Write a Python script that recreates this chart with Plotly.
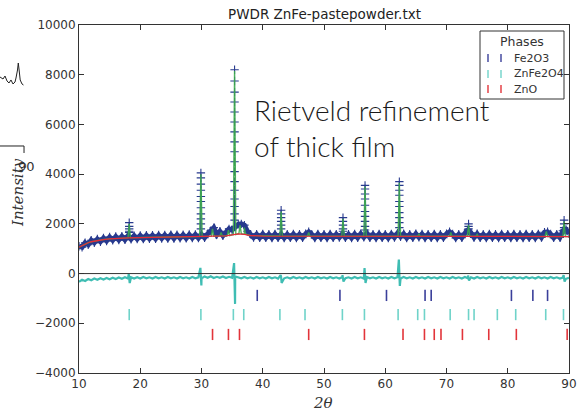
import numpy as np
import plotly.graph_objects as go

# ---------------- data ----------------
x_start, x_stop, x_step = 10.0, 90.0, 0.5

# observed intensity on a 0.5 deg grid (10.0 ... 90.0)
obs_y = [
    1100, 1060, 1240, 1160, 1340, 1240, 1390, 1280, 1430, 1310,   # 10.0-14.5
    1470, 1340, 1490, 1350, 1500, 1360, 1520, 1380, 1520, 1390,   # 15.0-19.5
    1530, 1390, 1540, 1400, 1540, 1400, 1550, 1410, 1550, 1410,   # 20.0-24.5
    1560, 1410, 1560, 1420, 1560, 1420, 1570, 1430, 1570, 1430,   # 25.0-29.5
    1580, 1440, 1600, 1720, 1850, 1560, 1700, 1520, 1650, 1800,   # 30.0-34.5
    1750, 1900, 1980, 2000, 1950, 1700, 1580, 1450, 1580, 1440,   # 35.0-39.5
    1590, 1440, 1580, 1430, 1590, 1440, 1590, 1430, 1580, 1440,   # 40.0-44.5
    1590, 1430, 1580, 1440, 1600, 1680, 1580, 1430, 1590, 1440,   # 45.0-49.5
    1580, 1430, 1590, 1440, 1580, 1450, 1600, 1440, 1580, 1430,   # 50.0-54.5
    1590, 1440, 1600, 1460, 1620, 1440, 1580, 1430, 1590, 1440,   # 55.0-59.5
    1580, 1430, 1590, 1450, 1620, 1480, 1600, 1430, 1580, 1440,   # 60.0-64.5
    1600, 1460, 1590, 1430, 1580, 1440, 1590, 1430, 1580, 1440,   # 65.0-69.5
    1600, 1680, 1590, 1430, 1580, 1440, 1620, 1750, 1640, 1450,   # 70.0-74.5
    1600, 1440, 1580, 1430, 1590, 1440, 1580, 1430, 1590, 1440,   # 75.0-79.5
    1580, 1430, 1590, 1440, 1580, 1430, 1590, 1440, 1580, 1430,   # 80.0-84.5
    1590, 1450, 1660, 1680, 1590, 1440, 1580, 1450, 1720, 1780,   # 85.0-89.5
    1600,                                                         # 90.0
]

# observed points stacked along the main peaks
peak_x = [18.2, 29.9, 35.4, 43.0, 53.1, 56.7, 62.3, 73.6, 89.2]
peak_obs_levels = [
    [2050, 1900, 1800, 1700, 1650],
    [4050, 3850, 3600, 3350, 3100, 2900, 2650, 2400, 2200, 2000, 1800],
    [8200, 7750, 7300, 6900, 6500, 6100, 5700, 5300, 4900, 4500, 4100,
     3700, 3350, 3000, 2700, 2400, 2150],
    [2550, 2400, 2250, 2100, 1950, 1800],
    [2250, 2100, 1950, 1800, 1700],
    [3550, 3400, 3200, 3000, 2750, 2500, 2300, 2100, 1900, 1750],
    [3700, 3550, 3350, 3150, 2900, 2700, 2450, 2250, 2050, 1850],
    [2000, 1900, 1800, 1700],
    [2150, 2000, 1850, 1750],
]

# background curve
bg_x = [10, 10.5, 11, 11.5, 12, 13, 14, 15, 16, 18, 20, 25, 30, 32, 34, 35, 36, 37, 38, 40, 50, 60, 70, 80, 90]
bg_y = [1060, 1130, 1190, 1240, 1280, 1330, 1370, 1395, 1415, 1435, 1450, 1470, 1490, 1500, 1520, 1560, 1600, 1580, 1530, 1510, 1505, 1500, 1500, 1495, 1490]

# calculated pattern: peaks (position, top, base)
calc_peak_x = [18.2, 29.9, 31.8, 33.2, 34.4, 35.4, 36.3, 37.0, 43.0, 47.5, 53.1, 56.7, 62.3, 65.5, 70.7, 73.6, 75.0, 86.3, 89.2]
calc_peak_top = [2000, 4000, 1800, 1650, 1750, 8150, 1950, 1850, 2500, 1650, 2200, 3500, 3650, 1600, 1650, 1950, 1580, 1700, 2100]
calc_peak_base = [1435, 1490, 1505, 1515, 1530, 1570, 1600, 1580, 1510, 1508, 1505, 1503, 1500, 1500, 1500, 1500, 1500, 1492, 1490]

# difference curve (obs - calc, offset) on the same grid
diff_y = [
    -330, -250, -300, -220, -270, -200, -250, -190, -240, -180,
    -230, -170, -220, -160, -210, -150, -200, -150, -200, -150,
    -200, -140, -190, -150, -200, -140, -190, -150, -200, -140,
    -190, -150, -200, -140, -190, -150, -200, -140, -190, -150,
    -190, -120, -170, -110, -180, -130, -170, -120, -180, -130,
    -170, -120, -160, -190, -140, -190, -150, -200, -140, -190,
    -150, -200, -140, -190, -150, -200, -140, -190, -150, -200,
    -140, -190, -150, -200, -140, -190, -150, -200, -140, -190,
    -150, -200, -140, -190, -150, -200, -140, -190, -150, -200,
    -140, -190, -150, -200, -140, -190, -150, -200, -140, -190,
    -150, -200, -140, -190, -150, -200, -140, -190, -150, -200,
    -140, -190, -150, -200, -140, -190, -150, -200, -140, -190,
    -150, -200, -140, -190, -150, -200, -140, -190, -150, -200,
    -140, -190, -150, -200, -140, -190, -150, -200, -140, -190,
    -150, -200, -140, -190, -150, -200, -140, -190, -150, -200,
    -140, -190, -150, -200, -140, -190, -150, -200, -160, -210,
    -170,
]
diff_spike_x = [18.2, 29.9, 35.4, 43.0, 53.1, 56.7, 62.3, 73.6, 89.2]
diff_spike_up = [-20, 230, 420, -60, -60, 220, 560, -80, -60]
diff_spike_down = [-380, -480, -1220, -380, -320, -380, -500, -280, -320]

# reflection positions of the phases
phases = ["Fe2O3", "ZnFe2O4", "ZnO"]
phase_offsets = [-880, -1650, -2450]
fe2o3_pos = [39.1, 52.6, 60.2, 66.5, 67.5, 80.6, 84.1, 86.5]
znfe2o4_pos = [18.2, 29.9, 35.2, 36.9, 42.8, 46.9, 53.0, 56.6, 62.1, 65.3, 66.4, 70.6, 73.6, 74.5, 78.3, 81.3, 86.2, 89.1]
zno_pos = [31.8, 34.4, 36.2, 47.5, 56.6, 62.9, 66.4, 68.0, 69.1, 72.6, 76.9, 81.4, 89.7]
phase_positions = [fe2o3_pos, znfe2o4_pos, zno_pos]
phase_colors = ["#3a3f9a", "#6fd3c9", "#e2343a"]

x_ticks = [10, 20, 30, 40, 50, 60, 70, 80, 90]
y_ticks = [-4000, -2000, 0, 2000, 4000, 6000, 8000, 10000]

# ---------------- build series ----------------
grid_x = np.arange(x_start, x_stop + 1e-9, x_step)
grid_x = grid_x[:len(obs_y)]

obs_px = list(grid_x)
obs_py = list(obs_y)
for px_, levels in zip(peak_x, peak_obs_levels):
    for lv in levels:
        obs_px.append(px_)
        obs_py.append(lv)

half_w = 0.2
calc_pts = list(zip(bg_x, bg_y))
for cx, ct, cb in zip(calc_peak_x, calc_peak_top, calc_peak_base):
    calc_pts += [(cx - half_w, cb), (cx, ct), (cx + half_w, cb)]
calc_pts.sort(key=lambda p: p[0])
calc_x = [p[0] for p in calc_pts]
calc_y = [p[1] for p in calc_pts]

diff_pts = list(zip(grid_x, diff_y))
for dx, du, dd in zip(diff_spike_x, diff_spike_up, diff_spike_down):
    diff_pts += [(dx - 0.08, du), (dx + 0.08, dd)]
diff_pts.sort(key=lambda p: p[0])
diff_x = [p[0] for p in diff_pts]
diff_yy = [p[1] for p in diff_pts]

# ---------------- figure ----------------
fig = go.Figure()

obs_color = "#283a8e"
# dense band of observed points along the baseline
fig.add_trace(go.Scatter(
    x=list(grid_x), y=obs_y, mode="lines",
    line=dict(color=obs_color, width=5), showlegend=False, hoverinfo="skip"))
fig.add_trace(go.Scatter(
    x=obs_px, y=obs_py, mode="markers",
    marker=dict(symbol="cross-thin", size=6, line=dict(color=obs_color, width=1.1)),
    showlegend=False, hoverinfo="skip"))
fig.add_trace(go.Scatter(
    x=calc_x, y=calc_y, mode="lines",
    line=dict(color="#3aa84c", width=1.4), opacity=0.9, showlegend=False, hoverinfo="skip"))
fig.add_trace(go.Scatter(
    x=bg_x, y=bg_y, mode="lines",
    line=dict(color="#e8283a", width=1.3), showlegend=False, hoverinfo="skip"))
fig.add_trace(go.Scatter(
    x=diff_x, y=diff_yy, mode="lines",
    line=dict(color="#3fbdb3", width=2.2), showlegend=False, hoverinfo="skip"))

for name, off, pos, col in zip(phases, phase_offsets, phase_positions, phase_colors):
    fig.add_trace(go.Scatter(
        x=pos, y=[off] * len(pos), mode="markers", name=name,
        marker=dict(symbol="line-ns", size=8, line=dict(color=col, width=1.6)),
        showlegend=False, hoverinfo="skip", cliponaxis=False))

L, R, T, B = 79, 12, 25, 41
W, H = 581, 414
pw, ph = W - L - R, H - T - B


def pxx(x):
    return (x - L) / pw


def pxy(y):
    return (H - B - y) / ph


shapes = []
# zero line
shapes.append(dict(type="line", xref="paper", yref="y", x0=0, x1=1, y0=0, y1=0,
                   line=dict(color="#333333", width=1), layer="above"))
# legend box
shapes.append(dict(type="rect", xref="paper", yref="paper",
                   x0=pxx(480), x1=pxx(564), y0=pxy(99), y1=pxy(31),
                   line=dict(color="#333333", width=1), fillcolor="white", layer="above"))
annotations = []
annotations.append(dict(xref="paper", yref="paper", x=pxx(522), y=pxy(41), text="Phases",
                        showarrow=False, xanchor="center", yanchor="middle",
                        font=dict(family="DejaVu Sans", size=12.5, color="#333333")))
for i, (name, col) in enumerate(zip(phases, phase_colors)):
    yc = [58, 74, 89][i]
    for mx in (488, 501):
        shapes.append(dict(type="line", xref="paper", yref="paper",
                           x0=pxx(mx), x1=pxx(mx), y0=pxy(yc - 4), y1=pxy(yc + 4),
                           line=dict(color=col, width=1.4), layer="above"))
    annotations.append(dict(xref="paper", yref="paper", x=pxx(512), y=pxy(yc), text=name,
                            showarrow=False, xanchor="left", yanchor="middle",
                            font=dict(family="DejaVu Sans", size=11, color="#333333")))

# fragments of a neighbouring figure at the left edge
frag = [(0, 77), (3, 79), (5, 76), (7, 81), (9, 83), (11, 80), (13, 84), (15, 82), (16, 78),
        (17.5, 70), (18.3, 63), (19.2, 71), (20.2, 80), (22, 84), (23.5, 85)]
path = "M " + " L ".join(f"{pxx(a):.4f},{pxy(b):.4f}" for a, b in frag)
shapes.append(dict(type="path", xref="paper", yref="paper", path=path,
                   line=dict(color="#222222", width=1)))
shapes.append(dict(type="path", xref="paper", yref="paper",
                   path=f"M {pxx(0):.4f},{pxy(146):.4f} L {pxx(24):.4f},{pxy(146):.4f} L {pxx(24):.4f},{pxy(153):.4f}",
                   line=dict(color="#222222", width=1)))
annotations.append(dict(xref="paper", yref="paper", x=pxx(26), y=pxy(166), text="90",
                        showarrow=False, xanchor="center", yanchor="middle",
                        font=dict(family="DejaVu Sans", size=13, color="#333333")))

# axis titles and title
annotations.append(dict(xref="paper", yref="paper", x=pxx(323), y=pxy(403), text="2θ",
                        showarrow=False, xanchor="center", yanchor="middle",
                        font=dict(family="DejaVu Serif", size=15, color="#333333", style="italic")))
annotations.append(dict(xref="paper", yref="paper", x=pxx(18), y=pxy(193), text="Intensity",
                        showarrow=False, xanchor="center", yanchor="middle", textangle=-90,
                        font=dict(family="DejaVu Serif", size=15, color="#333333", style="italic")))
annotations.append(dict(xref="paper", yref="paper", x=pxx(324), y=pxy(14),
                        text="PWDR ZnFe-pastepowder.txt",
                        showarrow=False, xanchor="center", yanchor="middle",
                        font=dict(family="DejaVu Sans", size=13.5, color="#222222")))
# big overlay text (two lines in one block)
annotations.append(dict(xref="paper", yref="paper", x=pxx(252), y=pxy(128),
                        text="Rietveld refinement<br>of thick film", showarrow=False,
                        xanchor="left", yanchor="middle", align="left",
                        font=dict(family="Lato", size=28, color="#1a1a1a", weight=300)))

axis_common = dict(showgrid=False, zeroline=False, showline=True, linecolor="#333333", linewidth=1,
                   mirror="allticks", ticks="inside", ticklen=5, tickcolor="#333333", tickwidth=1,
                   tickfont=dict(family="DejaVu Sans", size=12, color="#333333"))

fig.update_layout(
    width=W, height=H,
    margin=dict(l=L, r=R, t=T, b=B, autoexpand=False),
    paper_bgcolor="white", plot_bgcolor="white",
    xaxis=dict(range=[10, 90], tickvals=x_ticks, **axis_common),
    yaxis=dict(range=[-4000, 10000], tickvals=y_ticks,
               ticktext=[str(v).replace("-", "\u2212") for v in y_ticks], **axis_common),
    shapes=shapes, annotations=annotations, showlegend=False,
)

fig.write_html("out.html", config={"displayModeBar": False},
               post_script="document.body.style.margin='0';document.body.style.overflow='hidden';")
